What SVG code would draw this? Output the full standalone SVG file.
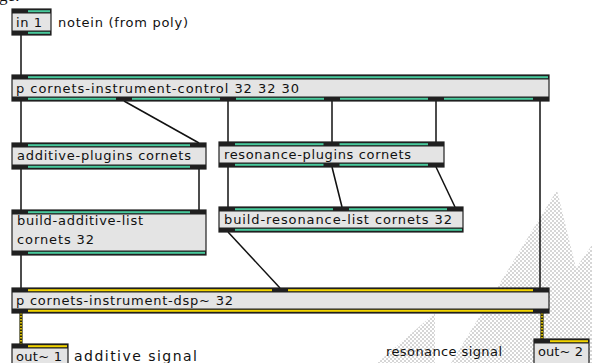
<svg xmlns="http://www.w3.org/2000/svg" width="592" height="363" viewBox="0 0 592 363">
<defs>
<pattern id="chk" width="4" height="4" patternUnits="userSpaceOnUse">
<rect width="2" height="2" fill="#d6d6d6"/><rect x="2" y="2" width="2" height="2" fill="#d6d6d6"/>
</pattern>
<style>
.bg{fill:#e4e4e4}
.bd{fill:#202020}
.g{fill:#48c99c}
.y{fill:#f2d400}
.ol{fill:none;stroke:#202020;stroke-width:1.2}
.t{font-family:"DejaVu Sans",sans-serif;font-size:13px;fill:#111}
.c{stroke:#111;stroke-width:1.5;fill:none}
.sb{stroke:#2a2a00;stroke-width:3.2;fill:none}
.sy{stroke:#e8c800;stroke-width:1.8;stroke-dasharray:1.5 1.5;fill:none}
</style>
</defs>
<rect width="592" height="363" fill="#fff"/>
<g id="backdrop" fill="url(#chk)">
<polygon points="557,190 576,268 592,245 592,363 451,363"/>
<polygon points="377,363 435,313 435,363"/>
</g>
<text x="-1" y="1" font-family="Liberation Serif, serif" font-size="17" fill="#111">ge:</text>
<g id="connectors">
<line class="c" x1="21" y1="35" x2="21" y2="75"/>
<line class="c" x1="21" y1="101" x2="21" y2="143"/>
<line class="c" x1="124" y1="101" x2="199" y2="143"/>
<line class="c" x1="228" y1="101" x2="228" y2="142"/>
<line class="c" x1="332" y1="101" x2="332" y2="142"/>
<line class="c" x1="436" y1="101" x2="436" y2="142"/>
<line class="c" x1="540" y1="101" x2="540" y2="288"/>
<line class="c" x1="21" y1="169" x2="21" y2="210"/>
<line class="c" x1="199" y1="169" x2="199" y2="210"/>
<line class="c" x1="228" y1="167" x2="228" y2="207"/>
<line class="c" x1="332" y1="167" x2="342" y2="207"/>
<line class="c" x1="436" y1="167" x2="455" y2="207"/>
<line class="c" x1="228" y1="232" x2="280" y2="288"/>
<line class="c" x1="21" y1="255" x2="21" y2="288"/>
<line class="sb" x1="21" y1="313" x2="21" y2="344"/>
<line class="sy" x1="21" y1="313" x2="21" y2="344"/>
<line class="sb" x1="542" y1="313" x2="542" y2="339"/>
<line class="sy" x1="542" y1="313" x2="542" y2="339"/>
</g>
<g id="in1">
<rect class="bg" x="12" y="9" width="39" height="26"/>
<rect class="bd" x="12" y="9" width="39" height="4.5"/>
<rect class="bd" x="12" y="30.5" width="39" height="4.5"/>
<rect class="g" x="28" y="10.2" width="22" height="2"/>
<rect class="g" x="28" y="31.8" width="22" height="2"/>
<rect class="ol" x="12" y="9" width="39" height="26"/>
<text class="t" x="16" y="26.5" textLength="26" lengthAdjust="spacing">in 1</text>
</g>
<g id="comment-notein">
<text class="t" x="58" y="26.5" textLength="130" lengthAdjust="spacing">notein (from poly)</text>
</g>
<g id="control">
<rect class="bg" x="12" y="75" width="537" height="26"/>
<rect class="bd" x="12" y="75" width="537" height="4.5"/>
<rect class="bd" x="12" y="96.5" width="537" height="4.5"/>
<rect class="g" x="28" y="76.2" width="520" height="2"/>
<rect class="g" x="28" y="97.8" width="88" height="2"/>
<rect class="g" x="132" y="97.8" width="88" height="2"/>
<rect class="g" x="236" y="97.8" width="88" height="2"/>
<rect class="g" x="340" y="97.8" width="88" height="2"/>
<rect class="g" x="444" y="97.8" width="89" height="2"/>
<rect class="ol" x="12" y="75" width="537" height="26"/>
<text class="t" x="16" y="92.5" textLength="283" lengthAdjust="spacing">p cornets-instrument-control 32 32 30</text>
</g>
<g id="additive-plugins">
<rect class="bg" x="12" y="143" width="194" height="26"/>
<rect class="bd" x="12" y="143" width="194" height="4.5"/>
<rect class="bd" x="12" y="164.5" width="194" height="4.5"/>
<rect class="g" x="28" y="144.2" width="162" height="2"/>
<rect class="g" x="28" y="165.8" width="162" height="2"/>
<rect class="ol" x="12" y="143" width="194" height="26"/>
<text class="t" x="17" y="159.5" textLength="174" lengthAdjust="spacing">additive-plugins cornets</text>
</g>
<g id="build-additive-list">
<rect class="bg" x="12" y="210" width="194" height="45"/>
<rect class="bd" x="12" y="210" width="194" height="4.5"/>
<rect class="bd" x="12" y="250.5" width="194" height="4.5"/>
<rect class="g" x="28" y="211.2" width="162" height="2"/>
<rect class="g" x="28" y="251.8" width="177" height="2"/>
<rect class="ol" x="12" y="210" width="194" height="45"/>
<text class="t" x="17" y="224.5" textLength="126" lengthAdjust="spacing">build-additive-list</text>
<text class="t" x="17" y="243.5" textLength="77" lengthAdjust="spacing">cornets 32</text>
</g>
<g id="resonance-plugins">
<rect class="bg" x="219" y="142" width="225" height="25"/>
<rect class="bd" x="219" y="142" width="225" height="4.5"/>
<rect class="bd" x="219" y="162.5" width="225" height="4.5"/>
<rect class="g" x="235" y="143.2" width="88.5" height="2"/>
<rect class="g" x="339.5" y="143.2" width="88.5" height="2"/>
<rect class="g" x="235" y="163.8" width="88.5" height="2"/>
<rect class="g" x="339.5" y="163.8" width="88.5" height="2"/>
<rect class="ol" x="219" y="142" width="225" height="25"/>
<text class="t" x="224" y="158.5" textLength="187" lengthAdjust="spacing">resonance-plugins cornets</text>
</g>
<g id="build-resonance-list">
<rect class="bg" x="219" y="207" width="244" height="25"/>
<rect class="bd" x="219" y="207" width="244" height="4.5"/>
<rect class="bd" x="219" y="227.5" width="244" height="4.5"/>
<rect class="g" x="235" y="208.2" width="98" height="2"/>
<rect class="g" x="349" y="208.2" width="98" height="2"/>
<rect class="g" x="235" y="228.8" width="227" height="2"/>
<rect class="ol" x="219" y="207" width="244" height="25"/>
<text class="t" x="224" y="224" textLength="228" lengthAdjust="spacing">build-resonance-list cornets 32</text>
</g>
<g id="dsp">
<rect class="bg" x="12" y="288" width="537" height="25"/>
<rect class="bd" x="12" y="288" width="537" height="4.5"/>
<rect class="bd" x="12" y="308.5" width="537" height="4.5"/>
<rect class="y" x="28" y="289.2" width="244" height="2"/>
<rect class="y" x="288" y="289.2" width="245" height="2"/>
<rect class="y" x="28" y="309.8" width="505" height="2"/>
<rect class="ol" x="12" y="288" width="537" height="25"/>
<text class="t" x="16" y="305" textLength="217" lengthAdjust="spacing">p cornets-instrument-dsp~ 32</text>
</g>
<g id="out1">
<rect class="bg" x="12" y="344" width="56" height="30"/>
<rect class="bd" x="12" y="344" width="56" height="4.5"/>
<rect class="y" x="28" y="345.2" width="39" height="2"/>
<rect class="ol" x="12" y="344" width="56" height="30"/>
<text class="t" x="16" y="360.5" textLength="46" lengthAdjust="spacing">out~ 1</text>
</g>
<g id="comment-additive">
<text class="t" x="74" y="360.5" font-size="14" textLength="123" lengthAdjust="spacing" style="font-size:14px">additive signal</text>
</g>
<g id="comment-resonance">
<text class="t" x="386" y="356" textLength="116" lengthAdjust="spacing">resonance signal</text>
</g>
<g id="out2">
<rect class="bg" x="534" y="339" width="55" height="30"/>
<rect class="bd" x="534" y="339" width="55" height="4.5"/>
<rect class="y" x="550" y="340.2" width="38" height="2"/>
<rect class="ol" x="534" y="339" width="55" height="30"/>
<text class="t" x="538" y="356" textLength="45" lengthAdjust="spacing">out~ 2</text>
</g>
</svg>
